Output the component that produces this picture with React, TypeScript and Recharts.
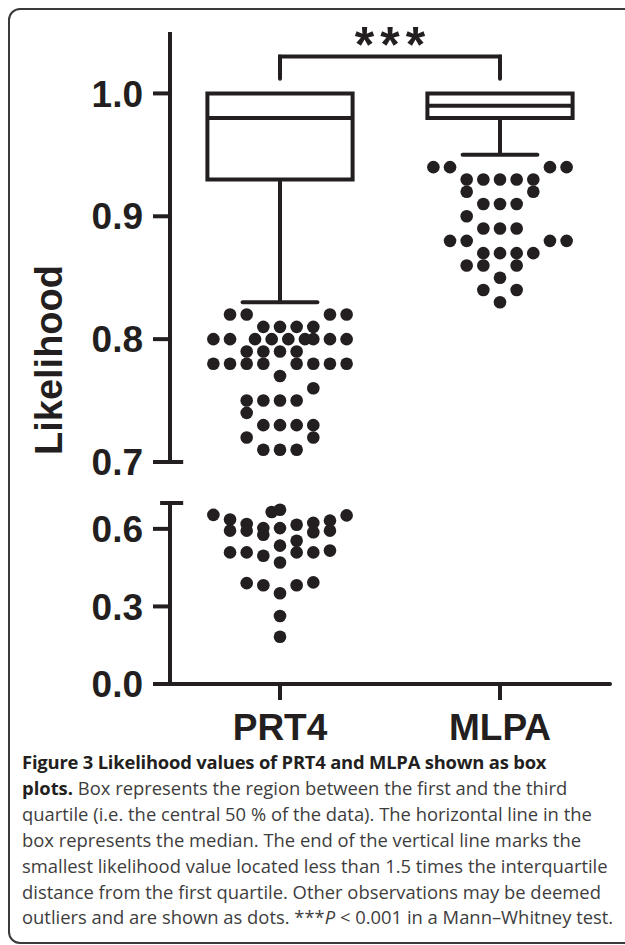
import React from "react";
import {
  ScatterChart,
  Scatter,
  XAxis,
  YAxis,
  ReferenceArea,
  ReferenceLine,
} from "recharts";

const CATEGORIES = ["PRT4", "MLPA"];
const CATEGORY_X = [0.5, 1.5];

// box plot summary per category
const BOX_Q1 = [0.93, 0.98];
const BOX_MEDIAN = [0.98, 0.99];
const BOX_Q3 = [1.0, 1.0];
const WHISKER_LOW = [0.83, 0.95];

const UPPER_TICKS = [0.7, 0.8, 0.9, 1.0];
const LOWER_TICKS = [0, 0.3, 0.6];

// dot rows: [value, swarm slots]
const PRT4_UPPER_ROWS: [number, number[]][] = [
  [0.82, [-3, -2, 3, 4]],
  [0.81, [-1, 0, 1, 2]],
  [0.8, [-4, -3, -1.5, -0.5, 0.5, 1.5, 2, 3, 4]],
  [0.79, [-2, -1, 0, 1]],
  [0.78, [-4, -3, -2, -1, 1, 2, 3, 4]],
  [0.77, [0]],
  [0.76, [2]],
  [0.75, [-2, -1, 0, 1]],
  [0.74, [-2]],
  [0.73, [-1, 0, 1, 2]],
  [0.72, [-2, 2]],
  [0.71, [-1, 0, 1]],
];

// [value, swarm slot]
const PRT4_LOWER: [number, number][] = [
  [0.654, -4], [0.636, -3], [0.593, -3], [0.619, -2], [0.593, -2],
  [0.603, -1], [0.577, -1], [0.665, -0.5], [0.674, 0], [0.603, 0],
  [0.616, 1], [0.623, 2], [0.587, 2], [0.632, 3], [0.593, 3],
  [0.652, 4], [0.554, 1], [0.535, 0], [0.509, -3], [0.509, -2],
  [0.496, -1], [0.509, 1], [0.509, 2], [0.516, 3], [0.47, 0],
  [0.39, -2], [0.382, -1], [0.351, 0], [0.382, 1], [0.393, 2],
  [0.263, 0], [0.183, 0],
];

const MLPA_ROWS: [number, number[]][] = [
  [0.94, [-4, -3, 3, 4]],
  [0.93, [-2, -1, 0, 1, 2]],
  [0.92, [-2, 2]],
  [0.91, [-1, 0, 1]],
  [0.9, [-2]],
  [0.89, [-1, 0, 1]],
  [0.88, [-3, -2, 3, 4]],
  [0.87, [-1, 0, 1, 2]],
  [0.86, [-2, -1, 1]],
  [0.85, [0]],
  [0.84, [-1, 1]],
  [0.83, [0]],
];

const INK = "#231f20";
const FONT = "'Liberation Sans', Arial, Helvetica, sans-serif";
const SLOT = 0.0757; // one dot width in x units
const BOX_HALF = 0.33;
const CAP_HALF = 0.17;
const BRACKET_Y = 1.03;
const BRACKET_LEG = 1.012;

const rowsToPoints = (rows: [number, number[]][], center: number) =>
  rows.flatMap(([v, slots]) => slots.map((s) => ({ x: center + s * SLOT, y: v })));

const prt4Upper = rowsToPoints(PRT4_UPPER_ROWS, CATEGORY_X[0]);
const mlpaPoints = rowsToPoints(MLPA_ROWS, CATEGORY_X[1]);
const prt4Lower = PRT4_LOWER.map(([v, s]) => ({ x: CATEGORY_X[0] + s * SLOT, y: v }));

const Dot = (props: any) => <circle cx={props.cx} cy={props.cy} r={6.3} fill={INK} />;

const line = { stroke: INK, strokeWidth: 4 };
const tickFont = { fill: INK, fontSize: 37, fontWeight: 700, fontFamily: FONT };

function BoxPlot(i: number) {
  const c = CATEGORY_X[i];
  return [
    <ReferenceArea
      key={`box-${i}`}
      x1={c - BOX_HALF}
      x2={c + BOX_HALF}
      y1={BOX_Q1[i]}
      y2={BOX_Q3[i]}
      fill="none"
      fillOpacity={0}
      stroke={INK}
      strokeWidth={4}
      ifOverflow="visible"
    />,
    <ReferenceLine
      key={`med-${i}`}
      segment={[
        { x: c - BOX_HALF, y: BOX_MEDIAN[i] },
        { x: c + BOX_HALF, y: BOX_MEDIAN[i] },
      ]}
      {...line}
    />,
    <ReferenceLine
      key={`wh-${i}`}
      segment={[
        { x: c, y: BOX_Q1[i] },
        { x: c, y: WHISKER_LOW[i] },
      ]}
      {...line}
    />,
    <ReferenceLine
      key={`cap-${i}`}
      segment={[
        { x: c - CAP_HALF, y: WHISKER_LOW[i] },
        { x: c + CAP_HALF, y: WHISKER_LOW[i] },
      ]}
      strokeLinecap="round"
      {...line}
    />,
  ];
}

const Stars = ({ viewBox }: any) => (
  <text
    x={viewBox.x + viewBox.width / 2 + 3}
    y={viewBox.y + 5}
    textAnchor="middle"
    fill={INK}
    fontFamily={FONT}
    fontWeight={700}
    fontSize={50}
    letterSpacing={6}
  >
    ***
  </text>
);

export default function App() {
  return (
    <div style={{ position: "relative", width: 625, height: 945, overflow: "hidden", background: "#fff" }}>
      <style>{`body{margin:0;overflow:hidden}`}</style>
      <div
        style={{
          position: "absolute",
          left: 8,
          top: 8,
          width: 640,
          height: 932,
          border: "2px solid #3a3a3a",
          borderRadius: 12,
        }}
      />

      <div style={{ position: "absolute", left: 0, top: 0 }}>
        <ScatterChart width={625} height={500} margin={{ top: 32, right: 15, bottom: 38, left: 0 }}>
          <XAxis hide type="number" dataKey="x" domain={[0, 2]} />
          <YAxis
            type="number"
            dataKey="y"
            domain={[0.7, 1.05]}
            ticks={UPPER_TICKS}
            interval={0}
            width={170}
            tickSize={17}
            tickMargin={10}
            axisLine={line}
            tickLine={line}
            tick={tickFont}
            tickFormatter={(v: number) => v.toFixed(1)}
          />
          {BoxPlot(0)}
          {BoxPlot(1)}
          <ReferenceLine
            segment={[{ x: 0, y: 0.7 }, { x: 0.06, y: 0.7 }]}
            ifOverflow="visible"
            {...line}
          />
          <ReferenceLine
            segment={[{ x: CATEGORY_X[0], y: BRACKET_LEG }, { x: CATEGORY_X[0], y: BRACKET_Y }]}
            strokeLinecap="round"
            {...line}
          />
          <ReferenceLine
            segment={[{ x: CATEGORY_X[1], y: BRACKET_LEG }, { x: CATEGORY_X[1], y: BRACKET_Y }]}
            strokeLinecap="round"
            {...line}
          />
          <ReferenceLine
            segment={[{ x: CATEGORY_X[0], y: BRACKET_Y }, { x: CATEGORY_X[1], y: BRACKET_Y }]}
            strokeLinecap="square"
            label={<Stars />}
            {...line}
          />
          <Scatter data={prt4Upper} shape={Dot} isAnimationActive={false} />
          <Scatter data={mlpaPoints} shape={Dot} isAnimationActive={false} />
        </ScatterChart>
      </div>

      <div style={{ position: "absolute", left: 0, top: 470 }}>
        <ScatterChart width={625} height={290} margin={{ top: 33, right: 15, bottom: 6, left: 0 }}>
          <XAxis
            type="number"
            dataKey="x"
            domain={[0, 2]}
            ticks={CATEGORY_X}
            interval={0}
            height={70}
            tickSize={16}
            tickMargin={14}
            axisLine={{ ...line, strokeLinecap: "round" }}
            tickLine={line}
            tick={tickFont}
            tickFormatter={(v: number) => CATEGORIES[CATEGORY_X.indexOf(v)]}
          />
          <YAxis
            type="number"
            dataKey="y"
            domain={[0, 0.7]}
            ticks={LOWER_TICKS}
            interval={0}
            width={170}
            tickSize={17}
            tickMargin={10}
            axisLine={line}
            tickLine={line}
            tick={tickFont}
            tickFormatter={(v: number) => v.toFixed(1)}
          />
          <ReferenceLine
            segment={[{ x: -0.045, y: 0.7 }, { x: 0.06, y: 0.7 }]}
            ifOverflow="visible"
            {...line}
          />
          <Scatter data={prt4Lower} shape={Dot} isAnimationActive={false} />
        </ScatterChart>
      </div>

      <svg style={{ position: "absolute", left: 0, top: 0 }} width={100} height={700}>
        <text
          x={62}
          y={360}
          transform="rotate(-90 62 360)"
          textAnchor="middle"
          fill={INK}
          fontFamily={FONT}
          fontWeight={700}
          fontSize={38}
        >
          Likelihood
        </text>
      </svg>

      <div
        style={{
          position: "absolute",
          left: 22,
          top: 749,
          fontFamily: "'Open Sans', sans-serif",
          fontSize: 18.4,
          lineHeight: "25.9px",
          color: "#3d3d3d",
          whiteSpace: "nowrap",
        }}
      >
        <div style={{ fontWeight: 700, color: INK, letterSpacing: -0.2 }}>
          Figure 3 Likelihood values of PRT4 and MLPA shown as box
        </div>
        <div>
          <b style={{ color: INK }}>plots.</b> Box represents the region between the first and the third
        </div>
        <div>quartile (i.e. the central 50 % of the data). The horizontal line in the</div>
        <div>box represents the median. The end of the vertical line marks the</div>
        <div>smallest likelihood value located less than 1.5 times the interquartile</div>
        <div>distance from the first quartile. Other observations may be deemed</div>
        <div>
          outliers and are shown as dots. ***<i>P</i> &lt; 0.001 in a Mann–Whitney test.
        </div>
      </div>
    </div>
  );
}
